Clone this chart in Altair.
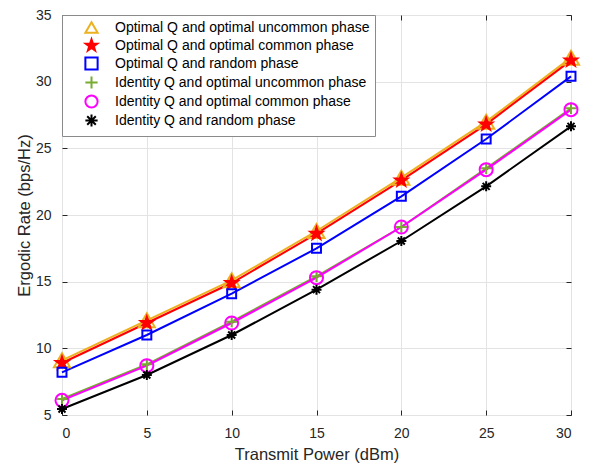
import altair as alt
import pandas as pd

power = [0, 5, 10, 15, 20, 25, 30]
series_names = [
    "Optimal Q and optimal uncommon phase",
    "Optimal Q and optimal common phase",
    "Optimal Q and random phase",
    "Identity Q and optimal uncommon phase",
    "Identity Q and optimal common phase",
    "Identity Q and random phase",
]
opt_uncommon = [9.1, 12.1, 15.1, 18.8, 22.8, 27.0, 31.8]
opt_common = [8.9, 11.9, 14.9, 18.6, 22.6, 26.8, 31.6]
opt_random = [8.2, 11.0, 14.1, 17.5, 21.4, 25.7, 30.4]
id_uncommon = [6.2, 8.8, 12.0, 15.4, 19.1, 23.5, 28.0]
id_common = [6.1, 8.7, 11.9, 15.3, 19.1, 23.4, 27.9]
id_random = [5.45, 8.0, 11.0, 14.4, 18.05, 22.15, 26.65]
all_values = [opt_uncommon, opt_common, opt_random, id_uncommon, id_common, id_random]
x_ticks = [0, 5, 10, 15, 20, 25, 30]
y_ticks = [5, 10, 15, 20, 25, 30, 35]

colors = ["#EDB120", "#FF0000", "#0000FF", "#77AC30", "#FF00FF", "#000000"]
fills = ["transparent", "#FF0000", "transparent", "transparent", "transparent", "transparent"]
star = ("M0,-1L0.235,-0.324L0.951,-0.309L0.380,0.124L0.588,0.809L0,0.4"
        "L-0.588,0.809L-0.380,0.124L-0.951,-0.309L-0.235,-0.324Z")
plus = "M-1,0L1,0M0,-1L0,1"
aster = "M-1,0L1,0M0,-1L0,1M-0.7,-0.7L0.7,0.7M-0.7,0.7L0.7,-0.7"
shapes = ["triangle-up", star, "square", plus, "circle", aster]
sizes = [260, 170, 80, 130, 170, 100]

rows = []
for order, (name, vals) in enumerate(zip(series_names, all_values)):
    for p, v in zip(power, vals):
        rows.append({"power": p, "rate": v, "series": name, "order": order,
                     "msize": sizes[order]})
df = pd.DataFrame(rows)

font = "Liberation Sans"
xs = alt.Scale(domain=[0, 30], nice=False)
ys = alt.Scale(domain=[5, 35], nice=False)

x_main = alt.X("power:Q", scale=xs,
               axis=alt.Axis(values=x_ticks, title="Transmit Power (dBm)", orient="bottom",
                             offset=-5, tickSize=5, labelPadding=11, titlePadding=6))
y_main = alt.Y("rate:Q", scale=ys,
               axis=alt.Axis(values=y_ticks, title="Ergodic Rate (bps/Hz)", orient="left",
                             offset=-5, tickSize=5, labelPadding=11, titlePadding=3))
x_top = alt.X("power:Q", scale=xs,
              axis=alt.Axis(values=x_ticks, title=None, orient="top", labels=False,
                            grid=False, offset=-5, tickSize=5))
y_right = alt.Y("rate:Q", scale=ys,
                axis=alt.Axis(values=y_ticks, title=None, orient="right", labels=False,
                              grid=False, offset=-5, tickSize=5))

legend = alt.Legend(
    title=None, orient="top-left", offset=0, padding=5,
    fillColor="white", strokeColor="#8a8a8a",
    labelFont=font, labelFontSize=14, labelColor="#000000",
    symbolOffset=17, labelOffset=16, rowPadding=-2, symbolStrokeWidth=2,
    symbolSize=150, labelLimit=400,
)

stroke_enc = alt.Stroke("series:N", scale=alt.Scale(domain=series_names, range=colors),
                        legend=legend)

lines = alt.Chart(df).mark_line(strokeWidth=2).encode(
    x=x_main, y=y_main,
    detail="series:N",
    stroke=stroke_enc,
    order="order:Q",
)

points = alt.Chart(df).mark_point(strokeWidth=2, opacity=1).encode(
    x=x_top, y=y_right,
    shape=alt.Shape("series:N", scale=alt.Scale(domain=series_names, range=shapes), legend=legend),
    stroke=stroke_enc,
    fill=alt.Fill("series:N", scale=alt.Scale(domain=series_names, range=fills), legend=legend),
    size=alt.Size("msize:Q", scale=None),
    order="order:Q",
)

chart = alt.layer(lines, points).resolve_axis(x="independent", y="independent").properties(
    width=509, height=400,
    padding={"left": 54, "top": 7, "right": 15, "bottom": 52},
    autosize=alt.AutoSizeParams(type="none"),
).configure_view(
    stroke="#262626", strokeWidth=1,
).configure_axis(
    labelFont=font, titleFont=font, labelFontSize=14, titleFontSize=16.5,
    titleFontWeight="normal", labelColor="#262626", titleColor="#262626",
    gridColor="#e3e3e3", gridWidth=1, domain=False, tickColor="#262626",
)

chart.save("out.html", embed_options={"renderer": "svg", "actions": False})
